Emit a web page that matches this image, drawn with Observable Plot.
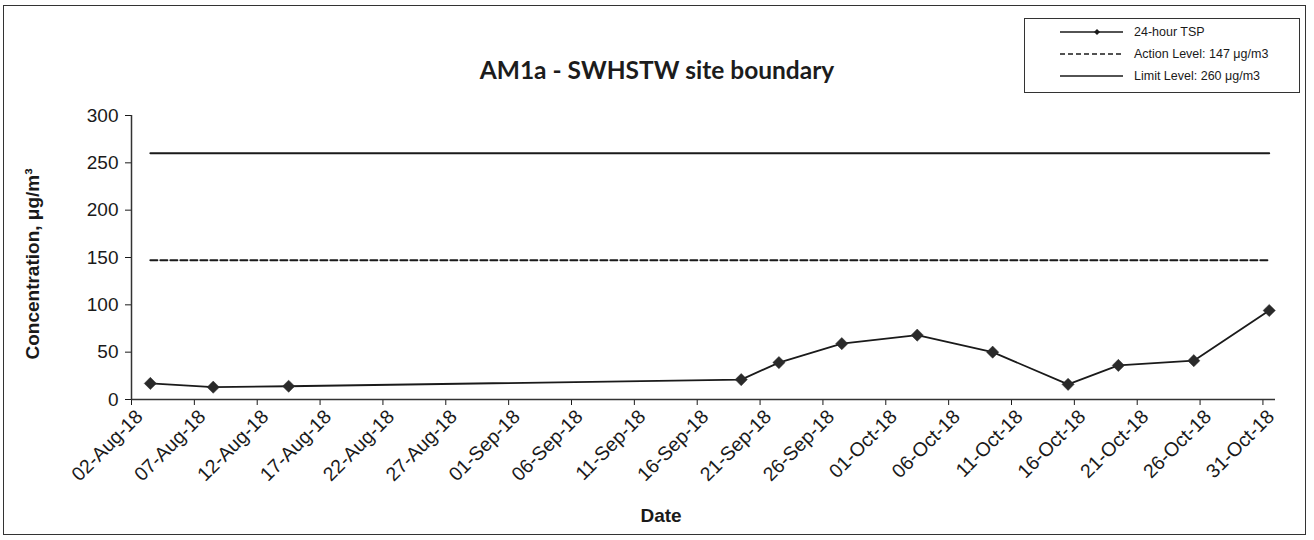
<!DOCTYPE html>
<html>
<head>
<meta charset="utf-8">
<script src="https://cdn.jsdelivr.net/npm/d3@7"></script>
<script src="https://cdn.jsdelivr.net/npm/@observablehq/plot@0.6"></script>
<style>
  body { margin: 0; background: #fff; }
  #wrap { position: relative; width: 1314px; height: 540px; font-family: "Liberation Sans", Arial, sans-serif; color: #1a1a1a; overflow: hidden; }
  #chart { position: absolute; left: 0; top: 0; }
  #border { position: absolute; left: 3px; top: 5px; width: 1303px; height: 530px; border: 1.5px solid #333; box-sizing: border-box; }
  #title { position: absolute; left: 657px; top: 69px; transform: translate(-50%, -50%); font-family: Lato, "Open Sans", sans-serif; font-weight: bold; font-size: 24.5px; white-space: nowrap; color: #1c1c1c; }
  #ylab { position: absolute; left: 33px; top: 264px; transform: translate(-50%, -50%) rotate(-90deg); font-weight: bold; font-size: 19px; white-space: nowrap; }
  #xlab { position: absolute; left: 661px; top: 516px; transform: translate(-50%, -50%); font-weight: bold; font-size: 19px; white-space: nowrap; }
  #legend { position: absolute; left: 1024px; top: 18px; width: 276px; height: 75px; border: 1px solid #333; box-sizing: border-box; background: #fff; }
  .row { position: absolute; left: 0; height: 20px; display: flex; align-items: center; font-size: 12.5px; white-space: nowrap; }
  .row svg { margin-left: 35px; margin-right: 10px; }
</style>
</head>
<body>
<div id="wrap">
  <div id="chart"></div>
  <div id="border"></div>
  <div id="title">AM1a - SWHSTW site boundary</div>
  <div id="ylab">Concentration, μg/m³</div>
  <div id="xlab">Date</div>
  <div id="legend"></div>
</div>
<script>
// ---- Data ----
const sampleDates = ["2018-08-03", "2018-08-08", "2018-08-14", "2018-09-19", "2018-09-22", "2018-09-27",
                     "2018-10-03", "2018-10-09", "2018-10-15", "2018-10-19", "2018-10-25", "2018-10-31"];
const tspValues = [17, 13, 14, 21, 39, 59, 68, 50, 16, 36, 41, 94];
const actionLevel = 147;
const limitLevel = 260;
const xTickDates = ["2018-08-02", "2018-08-07", "2018-08-12", "2018-08-17", "2018-08-22", "2018-08-27",
                    "2018-09-01", "2018-09-06", "2018-09-11", "2018-09-16", "2018-09-21", "2018-09-26",
                    "2018-10-01", "2018-10-06", "2018-10-11", "2018-10-16", "2018-10-21", "2018-10-26", "2018-10-31"];
const yTicks = [0, 50, 100, 150, 200, 250, 300];
const xDomain = ["2018-08-02", "2018-11-01"];
const legendItems = [
  {label: "24-hour TSP", dash: null, marker: true},
  {label: "Action Level: 147 μg/m3", dash: "5,3", marker: false},
  {label: "Limit Level: 260 μg/m3", dash: null, marker: false}
];

// ---- Build ----
const parse = d3.utcParse("%Y-%m-%d");
const halfDay = 12 * 3600 * 1000; // points sit between tick marks (Excel date axis)
const rows = sampleDates.map((d, i) => ({date: new Date(parse(d).getTime() + halfDay), value: tspValues[i]}));
const ink = "#1a1a1a";
const xTicks = xTickDates.map(parse);

const chart = Plot.plot({
  width: 1314,
  height: 540,
  marginLeft: 131,
  marginRight: 39,
  marginTop: 115,
  marginBottom: 141,
  style: {fontFamily: "'Liberation Sans', Arial, sans-serif", color: ink, background: "transparent", overflow: "visible"},
  x: {type: "utc", domain: xDomain.map(parse)},
  y: {domain: [0, 300]},
  marks: [
    Plot.axisY({ticks: yTicks, tickSize: 6, tickPadding: 7, fontSize: 19, label: null}),
    Plot.axisX({ticks: xTicks, tickSize: 6, tickFormat: () => "", label: null}),
    Plot.axisX({ticks: xTicks, tickSize: 0, tickFormat: d3.utcFormat("%d-%b-%y"), tickRotate: -45,
                tickPadding: 4, fontSize: 19.5, dx: 8, dy: 10, label: null}),
    Plot.ruleY([0], {stroke: "#333", strokeWidth: 1.5}),
    Plot.ruleX([parse(xDomain[0])], {stroke: "#333", strokeWidth: 1.5}),
    Plot.lineY(rows, {x: "date", y: () => limitLevel, stroke: ink, strokeWidth: 2}),
    Plot.lineY(rows, {x: "date", y: () => actionLevel, stroke: ink, strokeWidth: 2, strokeDasharray: "7,3"}),
    Plot.lineY(rows, {x: "date", y: "value", stroke: ink, strokeWidth: 1.8}),
    Plot.dot(rows, {x: "date", y: "value", symbol: "diamond2", r: 5.5, fill: "#2a2a2a", stroke: "#2a2a2a", strokeWidth: 0.5})
  ]
});
document.getElementById("chart").append(chart);

// ---- Legend ----
const legend = document.getElementById("legend");
legendItems.forEach((item, i) => {
  const row = document.createElement("div");
  row.className = "row";
  row.style.top = (3 + i * 22) + "px";
  const svg = d3.create("svg").attr("width", 64).attr("height", 12);
  svg.append("line").attr("x1", 0).attr("x2", 63).attr("y1", 6).attr("y2", 6)
    .attr("stroke", ink).attr("stroke-width", 1.6).attr("stroke-dasharray", item.dash);
  if (item.marker) svg.append("path").attr("d", "M37,3L40,6L37,9L34,6Z").attr("fill", ink);
  row.append(svg.node());
  const span = document.createElement("span");
  span.textContent = item.label;
  row.append(span);
  legend.append(row);
});
</script>
</body>
</html>
